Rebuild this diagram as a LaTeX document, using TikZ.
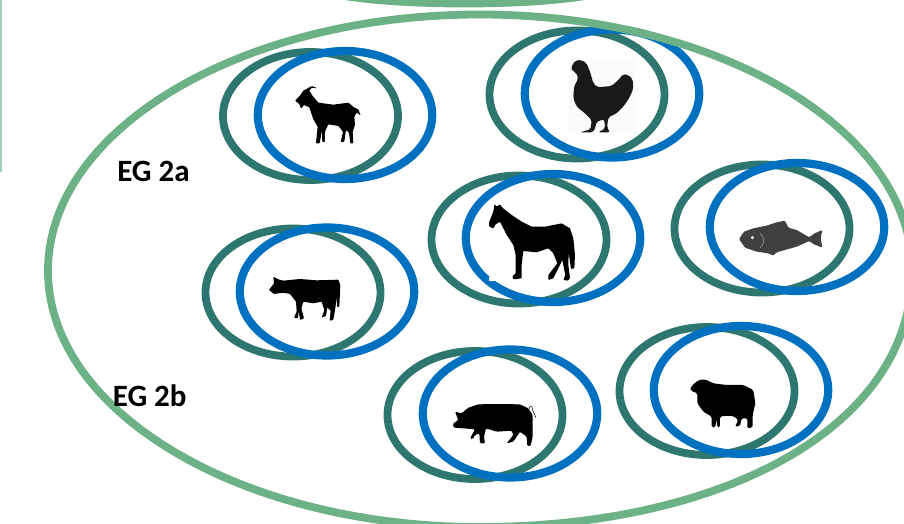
\documentclass[tikz,border=0pt]{standalone}
\usepackage{fontspec}
\setmainfont{Carlito}
\definecolor{outergreen}{HTML}{6DB287}
\definecolor{sidegreen}{HTML}{A0D2B8}
\definecolor{ringteal}{HTML}{2E7770}
\definecolor{ringblue}{HTML}{0070C0}
\tikzset{
	outer/.style={draw=outergreen, line width=7.8pt},
	ringa/.style={draw=ringteal, line width=7.8pt},
	ringb/.style={draw=ringblue, line width=8.2pt},
	animal/.style={fill=black, rounded corners=0.7pt},
	grouplabel/.style={font=\bfseries\fontsize{31}{34}\selectfont, inner sep=0pt},
	zoomed/.style={shift={(#1)}, scale=0.3333}
}
\begin{document}
\begin{tikzpicture}[x=1pt, y=-1pt]
	\useasboundingbox (0,0) rectangle (904,524);
	\fill [white] (0,0) rectangle (904,524);
	\clip (0,0) rectangle (904,524);

	\fill [sidegreen] (0,0) rectangle (2,172);
	\draw [outer] (345,-4) .. controls (405,6) and (525,6) .. (585,-4);

	\foreach \ax/\ay/\bx/\by in {310.5/116/345/115, 577/94.5/612/93.5, 519/239.5/553/238, 293/292.5/327/291.5, 475/415/510/413.5, 707/391/741/390, 762/228.5/797/227}
	{
		\draw [ringa] (\ax,\ay) ellipse [x radius=87.5, y radius=64];
		\draw [ringb] (\bx,\by) ellipse [x radius=87.2, y radius=64];
	}

	\draw [outer] (480,14.5) .. controls (718.6,14.5) and (912,129.25) .. (912,270.75) .. controls (912,429.6) and (718.6,527) .. (480,527) .. controls (241.4,527) and (48,412.25) .. (48,270.75) .. controls (48,129.25) and (241.4,14.5) .. (480,14.5) -- cycle;

	\begin{scope}[zoomed={200,30}]
		\fill [animal] (318,178) -- (335,168) -- (353,175) -- (335,173) -- (328,182) -- (338,198) -- (355,218) -- (400,224) -- (445,218) -- (462,232) -- (475,238) -- (482,256) -- (470,248) -- (463,260) -- (465,285) -- (458,305) -- (460,340) -- (451,340) -- (447,308) -- (438,300) -- (433,335) -- (422,337) -- (429,305) -- (415,288) -- (385,283) -- (375,305) -- (375,335) -- (367,337) -- (366,300) -- (359,340) -- (348,340) -- (353,290) -- (340,268) -- (328,232) -- (312,225) -- (303,236) -- (298,222) -- (285,212) -- (300,197) -- (310,182) -- cycle;
	\end{scope}

	\begin{scope}[zoomed={480,0}]
		\fill [black!1.5] (268,175) rectangle (465,400);
		\fill [animal, black!90, rounded corners=2pt] (272,205) -- (285,182) -- (305,180) -- (320,190) -- (330,215) -- (340,250) -- (352,262) -- (395,258) -- (415,240) -- (430,222) -- (445,225) -- (458,238) -- (460,265) -- (450,290) -- (430,320) -- (410,340) -- (385,352) -- (381,382) -- (390,397) -- (355,397) -- (376,385) -- (372,358) -- (350,365) -- (345,385) -- (340,397) -- (300,397) -- (332,388) -- (335,360) -- (315,340) -- (290,320) -- (280,295) -- (282,260) -- (295,235) -- (288,218) -- (278,212) -- cycle;
	\end{scope}

	\begin{scope}[zoomed={425,165}]
		\fill [white] (192,335) rectangle (213,348);
		\fill [animal] (208,118) -- (215,125) -- (225,118) -- (232,128) -- (260,150) -- (290,170) -- (320,185) -- (360,185) -- (410,175) -- (435,190) -- (445,220) -- (450,270) -- (448,310) -- (438,312) -- (431,262) -- (430,300) -- (435,340) -- (428,347) -- (415,345) -- (421,330) -- (412,285) -- (405,300) -- (385,340) -- (370,345) -- (370,330) -- (397,295) -- (385,265) -- (370,250) -- (335,262) -- (295,258) -- (290,300) -- (290,340) -- (265,343) -- (262,335) -- (272,325) -- (272,270) -- (265,240) -- (245,210) -- (225,170) -- (212,178) -- (205,190) -- (193,185) -- (192,172) -- (205,140) -- cycle;
	\end{scope}

	\begin{scope}[zoomed={200,220}]
		\fill [animal] (220,170) -- (235,178) -- (250,182) -- (300,177) -- (350,181) -- (415,179) -- (421,195) -- (418,260) -- (412,262) -- (410,232) -- (406,265) -- (400,300) -- (389,302) -- (392,272) -- (382,262) -- (378,288) -- (365,293) -- (373,270) -- (365,245) -- (340,250) -- (310,245) -- (304,265) -- (312,295) -- (300,300) -- (296,272) -- (294,295) -- (282,293) -- (290,275) -- (288,245) -- (270,222) -- (250,218) -- (222,222) -- (207,210) -- (222,190) -- cycle;
	\end{scope}

	\begin{scope}[zoomed={380,340}]
		\fill [animal, rounded corners=1.2pt] (225,215) -- (245,220) -- (265,203) -- (295,193) -- (350,192) -- (420,193) -- (445,205) -- (458,225) -- (458,260) -- (458,290) -- (452,318) -- (442,318) -- (440,290) -- (420,275) -- (400,305) -- (380,310) -- (400,285) -- (395,272) -- (350,275) -- (318,265) -- (312,290) -- (315,310) -- (300,310) -- (298,280) -- (285,285) -- (278,298) -- (270,295) -- (285,268) -- (250,265) -- (222,263) -- (218,252) -- (235,240) -- cycle;
		\draw [line width=0.5pt] (447,208) .. controls (447,196) and (459,196) .. (457,208) -- (468,233);
	\end{scope}

	\begin{scope}[zoomed={610,320}]
		\fill [animal, rounded corners=1.5pt] (240,205) -- (255,188) -- (272,178) -- (290,180) -- (310,190) -- (350,195) -- (400,195) -- (430,210) -- (436,250) -- (428,285) -- (428,322) -- (412,325) -- (412,295) -- (395,295) -- (390,318) -- (375,320) -- (385,300) -- (370,288) -- (340,288) -- (330,290) -- (330,322) -- (322,322) -- (319,297) -- (316,322) -- (305,322) -- (305,290) -- (280,275) -- (262,250) -- (262,220) -- (243,212) -- cycle;
	\end{scope}

	\begin{scope}[zoomed={670,155}]
		\fill [animal, black!75, rounded corners=1.2pt] (207,252) -- (222,230) -- (250,220) -- (290,212) -- (320,202) -- (345,197) -- (355,218) -- (380,225) -- (418,247) -- (432,236) -- (457,225) -- (452,250) -- (457,278) -- (432,268) -- (418,258) -- (380,275) -- (320,292) -- (310,302) -- (295,295) -- (260,290) -- (225,278) -- cycle;
		\fill [white] (247,248) circle (5);
		\draw [black!40, line width=0.6pt] (270,235) .. controls (285,245) and (285,268) .. (270,278);
	\end{scope}

	\node [grouplabel] (labela) at (153.5,171) {EG 2a};
	\node [grouplabel] (labelb) at (149.7,396) {EG 2b};
\end{tikzpicture}
\end{document}
